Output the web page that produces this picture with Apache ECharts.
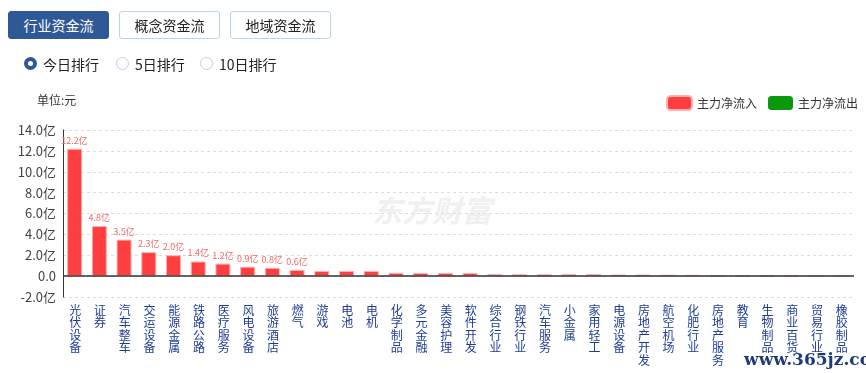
<!DOCTYPE html>
<html>
<head>
<meta charset="utf-8">
<script src="https://cdn.jsdelivr.net/npm/echarts@6/dist/echarts.min.js"></script>
<style>
html,body{margin:0;padding:0;background:#fff;width:866px;height:373px;overflow:hidden;font-family:"Noto Sans CJK SC","Noto Sans",sans-serif;}
#chart{position:absolute;left:0;top:0;width:866px;height:373px;}
.btn{position:absolute;top:11px;height:28px;width:101px;box-sizing:border-box;border:1px solid #b9d3ec;border-radius:3px;background:#fff;color:#222;font-size:14px;line-height:26px;text-align:center;z-index:2;}
.btn.on{background:#2f5896;border-color:#2f5896;color:#fff;}
.radio{position:absolute;top:55px;height:18px;font-size:14px;color:#222;line-height:18px;z-index:2;}
.radio i{position:absolute;left:-19px;top:2px;width:13px;height:13px;box-sizing:border-box;border:1px solid #bcd0e6;border-radius:50%;background:#fff;}
.radio.on i{border:4px solid #2f5896;}
</style>
</head>
<body>
<div id="chart"></div>
<div class="btn on" style="left:8px">行业资金流</div>
<div class="btn" style="left:119px">概念资金流</div>
<div class="btn" style="left:230px">地域资金流</div>
<div class="radio on" style="left:43px"><i></i>今日排行</div>
<div class="radio" style="left:135px"><i></i>5日排行</div>
<div class="radio" style="left:219px"><i></i>10日排行</div>
<script>
var categories = ['光伏设备','证券','汽车整车','交运设备','能源金属','铁路公路','医疗服务','风电设备','旅游酒店','燃气','游戏','电池','电机','化学制品','多元金融','美容护理','软件开发','综合行业','钢铁行业','汽车服务','小金属','家用轻工','电源设备','房地产开发','航空机场','化肥行业','房地产服务','教育','生物制品','商业百货','贸易行业','橡胶制品'];
var inflowValues = [12.2,4.8,3.5,2.3,2.0,1.4,1.2,0.9,0.8,0.6,0.5,0.5,0.5,0.32,0.3,0.3,0.3,0.2,0.18,0.18,0.2,0.2,0.15,0.15,0.13,0.12,0.1,0.1,0.07,0.05,0.03,0.02];
var outflowValues = [];
var yTicks = [-2,0,2,4,6,8,10,12,14];
var labeledCount = 10;

var chart = echarts.init(document.getElementById('chart'), null, {renderer:'canvas'});
chart.setOption({
  animation:false,
  backgroundColor:'#fff',
  grid:{left:63,right:12,top:130,bottom:76,containLabel:false},
  legend:{
    data:['主力净流入','主力净流出'],
    right:3, top:90,
    itemWidth:25, itemHeight:14, itemGap:11,
    icon:'roundRect',
    textStyle:{color:'#333',fontSize:12,fontFamily:'Noto Sans CJK SC'}
  },
  graphic:[
    {type:'text',left:37,top:94,style:{text:'单位:元',fill:'#333',font:'12px "Noto Sans CJK SC"'}},
    {type:'text',left:372,top:196,z:-1,style:{text:'东方财富',fill:'#f0f0f0',font:'italic bold 30px "Noto Sans CJK SC"'}},
    {type:'text',left:744,top:352,z:100,style:{text:'www.365jz.com',fill:'#1d3a78',font:'bold 17px "DejaVu Serif"'}}
  ],
  xAxis:{
    type:'category',
    data:categories,
    axisLine:{show:false,onZero:false},
    axisTick:{show:false},
    axisLabel:{
      interval:0, margin:7,
      color:'#1e3c96', fontSize:12, lineHeight:12.5,
      fontFamily:'Noto Sans CJK SC',
      formatter:function(v){return v.split('').join('\n');}
    }
  },
  yAxis:{
    type:'value', min:yTicks[0], max:yTicks[yTicks.length-1], interval:2,
    axisLine:{show:true,lineStyle:{color:'#333',width:1}},
    axisTick:{show:false},
    axisLabel:{color:'#444',fontSize:13,margin:7,fontFamily:'Noto Sans CJK SC',
      formatter:function(v){return v===0?'0.0':v.toFixed(1)+'亿';}},
    splitLine:{show:true,lineStyle:{color:'#dddddd',type:[3,3],width:1}}
  },
  series:[
    {
      name:'主力净流入', type:'bar', data:inflowValues, barWidth:15,
      itemStyle:{color:'#ff3f3f',borderColor:'#ffb0b0',borderWidth:1},
      label:{show:true,position:'top',distance:4,color:'#f06a6a',fontSize:9,
        fontFamily:'Noto Sans CJK SC',
        formatter:function(p){return p.dataIndex<labeledCount? p.value.toFixed(1)+'亿':'';}},
      markLine:{silent:true,symbol:'none',label:{show:false},
        lineStyle:{color:'#333',type:'solid',width:1.5},data:[{yAxis:0}]}
    },
    {name:'主力净流出', type:'bar', data:outflowValues, itemStyle:{color:'#0a990a'}}
  ]
});
</script>
</body>
</html>
